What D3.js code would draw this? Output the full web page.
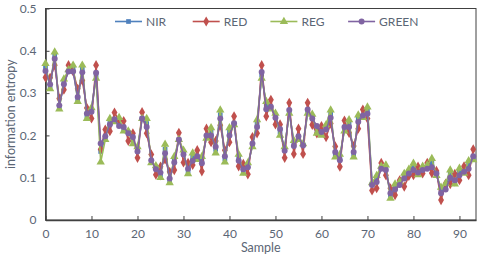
<!DOCTYPE html>
<html>
<head>
<meta charset="utf-8">
<script src="https://cdn.jsdelivr.net/npm/d3@7"></script>
<style>
  body { margin: 0; background: #fff; }
  svg { display: block; font-family: Lato, "Open Sans", sans-serif; }
</style>
</head>
<body>
<div id="chart"></div>
<script>
// values, samples 0..93
const seriesNames = ['NIR', 'RED', 'REG', 'GREEN'];
const yTicks = [0, 0.1, 0.2, 0.3, 0.4, 0.5];
const xTicks = [0, 10, 20, 30, 40, 50, 60, 70, 80, 90];

const nir = [0.360,0.316,0.388,0.266,0.326,0.352,0.357,0.286,0.356,0.247,0.260,0.342,0.162,0.195,0.232,0.236,0.230,0.216,0.207,0.189,
  0.167,0.240,0.228,0.138,0.124,0.107,0.167,0.093,0.142,0.190,0.159,0.116,0.148,0.148,0.141,0.197,0.208,0.167,0.249,0.145,
  0.208,0.227,0.146,0.116,0.129,0.177,0.228,0.343,0.270,0.265,0.246,0.208,0.168,0.256,0.180,0.196,0.178,0.256,0.245,0.214,
  0.205,0.218,0.250,0.156,0.147,0.216,0.228,0.156,0.240,0.245,0.259,0.085,0.097,0.124,0.124,0.058,0.078,0.086,0.104,0.115,
  0.126,0.110,0.122,0.125,0.135,0.108,0.070,0.079,0.109,0.090,0.114,0.112,0.130,0.147];
const red = [0.337,0.336,0.366,0.287,0.308,0.366,0.351,0.310,0.330,0.265,0.240,0.366,0.167,0.214,0.210,0.254,0.235,0.234,0.187,0.205,
  0.147,0.255,0.205,0.155,0.107,0.126,0.143,0.114,0.118,0.206,0.136,0.135,0.130,0.165,0.115,0.216,0.184,0.187,0.224,0.165,
  0.184,0.245,0.127,0.133,0.108,0.196,0.205,0.366,0.245,0.284,0.226,0.226,0.147,0.277,0.156,0.216,0.156,0.277,0.225,0.205,
  0.222,0.196,0.228,0.174,0.126,0.235,0.206,0.175,0.216,0.261,0.240,0.070,0.075,0.135,0.106,0.075,0.059,0.094,0.079,0.104,
  0.106,0.126,0.110,0.135,0.111,0.116,0.047,0.086,0.085,0.109,0.094,0.127,0.106,0.167];
const reg = [0.370,0.310,0.397,0.262,0.333,0.355,0.366,0.280,0.366,0.240,0.265,0.335,0.137,0.190,0.240,0.232,0.242,0.210,0.210,0.180,
  0.173,0.240,0.240,0.135,0.128,0.100,0.179,0.088,0.150,0.190,0.165,0.109,0.158,0.143,0.150,0.193,0.218,0.158,0.260,0.137,
  0.218,0.225,0.155,0.110,0.135,0.173,0.237,0.335,0.280,0.262,0.252,0.200,0.173,0.252,0.188,0.190,0.180,0.252,0.250,0.205,
  0.200,0.225,0.260,0.149,0.155,0.210,0.237,0.149,0.248,0.242,0.267,0.088,0.105,0.127,0.130,0.051,0.085,0.090,0.110,0.120,
  0.134,0.107,0.127,0.130,0.145,0.105,0.077,0.086,0.118,0.085,0.122,0.110,0.140,0.142];
const green = [0.352,0.321,0.381,0.271,0.321,0.351,0.351,0.291,0.349,0.252,0.256,0.348,0.181,0.198,0.226,0.238,0.222,0.220,0.205,0.196,
  0.162,0.240,0.220,0.141,0.120,0.112,0.158,0.098,0.136,0.190,0.155,0.121,0.140,0.151,0.134,0.200,0.200,0.173,0.240,0.151,
  0.200,0.229,0.140,0.120,0.125,0.181,0.220,0.350,0.262,0.268,0.242,0.215,0.164,0.260,0.175,0.198,0.176,0.261,0.240,0.222,
  0.208,0.214,0.242,0.161,0.141,0.220,0.220,0.161,0.232,0.247,0.251,0.083,0.090,0.121,0.118,0.063,0.072,0.083,0.098,0.110,
  0.118,0.112,0.118,0.121,0.125,0.110,0.063,0.072,0.100,0.094,0.106,0.114,0.121,0.151];

const allValues = [nir, red, reg, green];
const colors = ['#4f81bd', '#c0504d', '#9bbb59', '#8064a2'];
const symbols = [d3.symbolSquare, d3.symbolDiamond, d3.symbolTriangle, d3.symbolCircle];
const symSizes = [22, 30, 30, 28];

const width = 480, height = 256;
const margin = { left: 45.5, right: 4, top: 8.5, bottom: 36 };

const svg = d3.select('#chart').append('svg').attr('width', width).attr('height', height);

const x = d3.scaleLinear().domain([0, 93.6]).range([margin.left, width - margin.right]);
const y = d3.scaleLinear().domain([0, 0.5]).range([height - margin.bottom, margin.top]);

// frame
svg.append('rect')
  .attr('x', margin.left).attr('y', margin.top)
  .attr('width', width - margin.right - margin.left)
  .attr('height', height - margin.bottom - margin.top)
  .attr('fill', 'none').attr('stroke', '#404040').attr('stroke-width', 1);

// axes, ticks pointing inward
const xAxis = svg.append('g').attr('transform', `translate(0,${y(0)})`)
  .call(d3.axisBottom(x).tickValues(xTicks).tickSizeInner(-4).tickSizeOuter(0).tickPadding(9));
const yAxis = svg.append('g').attr('transform', `translate(${x(0)},0)`)
  .call(d3.axisLeft(y).tickValues(yTicks).tickFormat(d3.format('')).tickSizeInner(-4).tickSizeOuter(0).tickPadding(9));
[xAxis, yAxis].forEach(g => {
  g.select('.domain').attr('stroke', '#404040').attr('stroke-width', 1.6);
  g.selectAll('.tick line').attr('stroke', '#404040');
  g.selectAll('.tick text').attr('fill', '#5b6675').attr('font-size', 12)
    .attr('font-family', 'Lato, "Open Sans", sans-serif');
});
yAxis.select('.tick text').text('0');

// axis titles
svg.append('text').attr('x', (x(0) + x.range()[1]) / 2).attr('y', 252)
  .attr('text-anchor', 'middle').attr('fill', '#5b6675').attr('font-size', 12.5).text('Sample');
svg.append('text').attr('transform', `translate(15,${(y(0) + y(0.5)) / 2}) rotate(-90)`)
  .attr('text-anchor', 'middle').attr('fill', '#5b6675').attr('font-size', 12.5).text('information entropy');

// series
const line = d3.line().x((d, i) => x(i)).y(d => y(d));
allValues.forEach((vals, s) => {
  const g = svg.append('g');
  g.append('path').datum(vals).attr('d', line)
    .attr('fill', 'none').attr('stroke', colors[s]).attr('stroke-width', 1.6);
  g.selectAll('path.m').data(vals).enter().append('path').attr('class', 'm')
    .attr('transform', (d, i) => `translate(${x(i)},${y(d)})`)
    .attr('d', d3.symbol().type(symbols[s]).size(symSizes[s]))
    .attr('fill', colors[s]);
});

// legend
const legend = svg.append('g');
seriesNames.forEach((name, s) => {
  const lx = 115 + s * 77.7, ly = 21.5;
  legend.append('line').attr('x1', lx).attr('x2', lx + 27).attr('y1', ly).attr('y2', ly)
    .attr('stroke', colors[s]).attr('stroke-width', 1.6);
  legend.append('path').attr('transform', `translate(${lx + 13.5},${ly})`)
    .attr('d', d3.symbol().type(symbols[s]).size(symSizes[s])).attr('fill', colors[s]);
  legend.append('text').attr('x', lx + 31).attr('y', ly + 4).attr('fill', '#5b6675')
    .attr('font-size', 12).text(name);
});
</script>
</body>
</html>
